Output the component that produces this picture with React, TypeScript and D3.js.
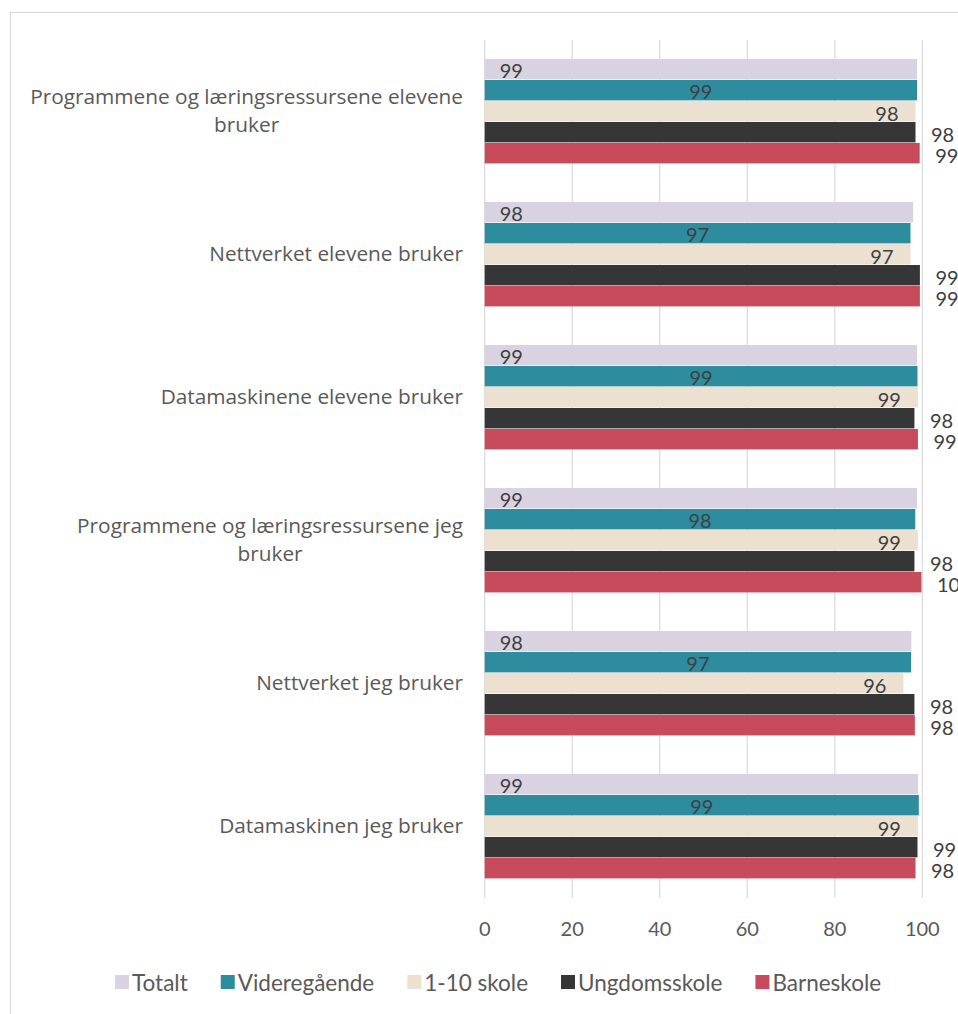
import React, { useEffect, useRef } from "react";
import * as d3 from "d3";

const categories = [
  "Programmene og læringsressursene elevene bruker",
  "Nettverket elevene bruker",
  "Datamaskinene elevene bruker",
  "Programmene og læringsressursene jeg bruker",
  "Nettverket jeg bruker",
  "Datamaskinen jeg bruker",
];
const seriesNames = ["Totalt", "Videregående", "1-10 skole", "Ungdomsskole", "Barneskole"];
const totalt = [98.8, 97.9, 98.8, 98.8, 97.5, 99.0];
const videregaende = [98.8, 97.3, 98.9, 98.4, 97.45, 99.2];
const skole110 = [98.45, 97.3, 99.0, 99.0, 95.7, 99.0];
const ungdomsskole = [98.45, 99.45, 98.2, 98.2, 98.2, 98.9];
const barneskole = [99.4, 99.45, 99.0, 99.8, 98.3, 98.45];
const seriesValues = [totalt, videregaende, skole110, ungdomsskole, barneskole];
const seriesColors = ["#d9d2e1", "#2e8c9f", "#ece1d1", "#363636", "#c84b5b"];
const xTicks = [0, 20, 40, 60, 80, 100];

const NUM_FONT = "Lato, 'Open Sans', sans-serif";
const CAT_FONT = "'Open Sans', sans-serif";

export default function App() {
  const ref = useRef<SVGSVGElement>(null);

  useEffect(() => {
    const svg = d3.select(ref.current);
    svg.selectAll("*").remove();

    svg
      .append("rect")
      .attr("x", 10.5)
      .attr("y", 12.5)
      .attr("width", 1000)
      .attr("height", 1100)
      .attr("fill", "#fff")
      .attr("stroke", "#d9d9d9")
      .attr("stroke-width", 1.2);

    const x = d3.scaleLinear().domain([0, 100]).range([484.7, 922.3]);
    const y0 = d3
      .scaleBand<string>()
      .domain(categories)
      .range([40, 898])
      .paddingInner(0.2657)
      .paddingOuter(0.13285);
    const y1 = d3.scaleBand<string>().domain(seriesNames).range([0, y0.bandwidth()]);

    // gridlines
    svg
      .append("g")
      .selectAll("line")
      .data(xTicks)
      .join("line")
      .attr("x1", (d) => x(d))
      .attr("x2", (d) => x(d))
      .attr("y1", 40)
      .attr("y2", 898)
      .attr("stroke", "#d9d9d9")
      .attr("stroke-width", 1.2);

    // tick labels
    svg
      .append("g")
      .selectAll("text")
      .data(xTicks)
      .join("text")
      .attr("x", (d) => x(d))
      .attr("y", 928)
      .attr("text-anchor", "middle")
      .attr("dominant-baseline", "central")
      .attr("font-family", NUM_FONT)
      .attr("font-size", 20)
      .attr("fill", "#595959")
      .text((d) => String(d));

    const fmt = d3.format(".0f");

    // bars
    seriesNames.forEach((s, si) => {
      const vals = seriesValues[si];
      const g = svg.append("g");
      g.selectAll("rect")
        .data(vals)
        .join("rect")
        .attr("x", x(0))
        .attr("y", (d, i) => (y0(categories[i]) as number) + (y1(s) as number))
        .attr("width", (d) => x(d) - x(0))
        .attr("height", y1.bandwidth() - 0.6)
        .attr("fill", seriesColors[si]);

      const lbl = g
        .selectAll("text")
        .data(vals)
        .join("text")
        .attr("y", (d, i) => (y0(categories[i]) as number) + (y1(s) as number) + y1.bandwidth() / 2 + 1)
        .attr("dominant-baseline", "central")
        .attr("font-family", NUM_FONT)
        .attr("font-size", 20)
        .attr("fill", "#404040")
        .text((d) => fmt(d));
      if (si === 0) {
        lbl.attr("x", x(0) + 15).attr("text-anchor", "start");
      } else if (si === 1) {
        lbl.attr("x", (d) => (x(0) + x(d)) / 2).attr("text-anchor", "middle");
      } else if (si === 2) {
        lbl.attr("x", (d) => x(d) - 17).attr("text-anchor", "end");
      } else {
        lbl.attr("x", (d) => x(d) + 15.5).attr("text-anchor", "start");
      }
    });

    // category labels
    const CAT_SIZE = 20.8;
    const catG = svg.append("g");
    const measureEl = catG
      .append("text")
      .attr("font-family", CAT_FONT)
      .attr("font-size", CAT_SIZE);
    const measure = (t: string) => {
      measureEl.text(t);
      return (measureEl.node() as SVGTextElement).getComputedTextLength();
    };
    const maxW = 445;
    const rightEdge = 463;
    const lineH = 28;
    categories.forEach((c) => {
      const words = c.split(" ");
      const lines: string[] = [];
      let cur = "";
      words.forEach((w) => {
        const test = cur ? cur + " " + w : w;
        if (cur && measure(test) > maxW) {
          lines.push(cur);
          cur = w;
        } else {
          cur = test;
        }
      });
      if (cur) lines.push(cur);
      const widths = lines.map(measure);
      const blockW = Math.max(...widths);
      const cx = rightEdge - blockW / 2;
      const cy = (y0(c) as number) + y0.bandwidth() / 2 - 1.5;
      lines.forEach((ln, li) => {
        catG
          .append("text")
          .attr("x", cx)
          .attr("y", cy + (li - (lines.length - 1) / 2) * lineH)
          .attr("text-anchor", "middle")
          .attr("dominant-baseline", "central")
          .attr("font-family", CAT_FONT)
          .attr("font-size", CAT_SIZE)
          .attr("fill", "#595959")
          .text(ln);
      });
    });
    measureEl.remove();

    // legend
    const legG = svg.append("g");
    let lx = 115;
    const ly = 982;
    seriesNames.forEach((s, si) => {
      legG
        .append("rect")
        .attr("x", lx)
        .attr("y", ly - 7)
        .attr("width", 14)
        .attr("height", 14)
        .attr("fill", seriesColors[si]);
      const t = legG
        .append("text")
        .attr("x", lx + 17)
        .attr("y", ly)
        .attr("dominant-baseline", "central")
        .attr("font-family", NUM_FONT)
        .attr("font-size", 22.5)
        .attr("fill", "#595959")
        .text(s);
      const w = (t.node() as SVGTextElement).getComputedTextLength();
      lx = lx + 17 + w + 33;
    });
  }, []);

  return (
    <svg
      ref={ref}
      width={958}
      height={1014}
      style={{ position: "absolute", left: 0, top: 0, background: "#fff" }}
    />
  );
}
